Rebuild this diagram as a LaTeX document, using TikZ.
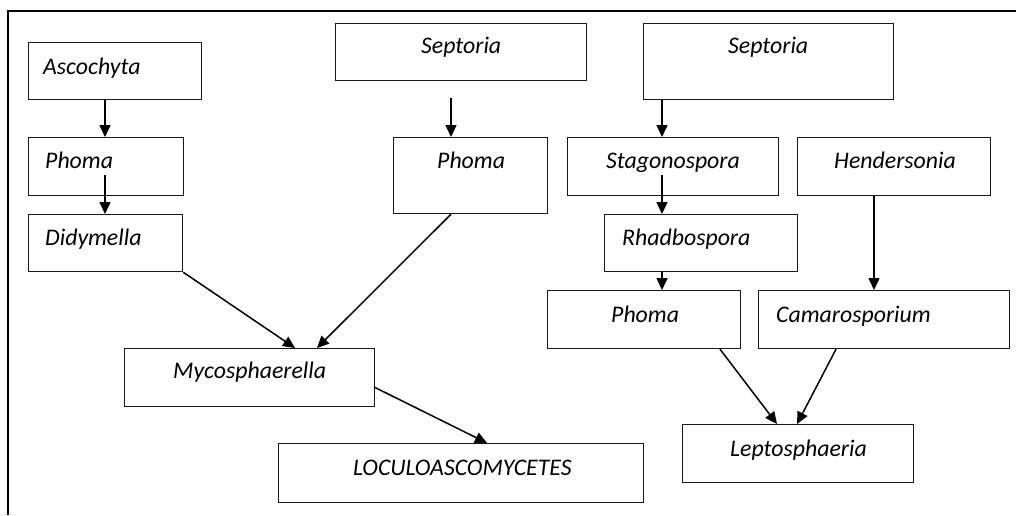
\documentclass[tikz,border=0pt]{standalone}
\usepackage{fontspec}
\setmainfont{Carlito}
\usetikzlibrary{arrows.meta}
\begin{document}
\begin{tikzpicture}[x=1pt,y=-1pt,
  box/.style={draw=black!90,line width=1.2pt,rectangle,inner sep=0pt,anchor=north west},
  txt/.style={inner sep=0pt,anchor=base west,font=\fontsize{23.8}{27}\selectfont\itshape},
  arr/.style={line width=1.5pt,-{Triangle[length=12pt,width=11pt]}},
  frame/.style={line width=2.2pt}]
\useasboundingbox (0,0) rectangle (1016,515);
% frame
\coordinate (fTL) at (8,11);
\coordinate (fTR) at (1016,11);
\coordinate (fBL) at (8,515);
\draw[frame] (fBL) -- (fTL) -- (fTR);
% boxes
\node[box,minimum width=173pt,minimum height=57pt] (asc) at (28,42) {};
\node[box,minimum width=155pt,minimum height=58pt] (ph1) at (28,137) {};
\node[box,minimum width=154pt,minimum height=57pt] (did) at (28,214) {};
\node[box,minimum width=251pt,minimum height=57pt] (sep1) at (335,23) {};
\node[box,minimum width=154pt,minimum height=76pt] (ph2) at (393,137) {};
\node[box,minimum width=250pt,minimum height=76pt] (sep2) at (643,23) {};
\node[box,minimum width=211pt,minimum height=58pt] (stag) at (567,137) {};
\node[box,minimum width=193pt,minimum height=58pt] (hend) at (797,137) {};
\node[box,minimum width=193pt,minimum height=57pt] (rhad) at (604,214) {};
\node[box,minimum width=193pt,minimum height=58pt] (ph3) at (547,290) {};
\node[box,minimum width=251pt,minimum height=58pt] (cam) at (758,290) {};
\node[box,minimum width=250pt,minimum height=58pt] (myco) at (124,348) {};
\node[box,minimum width=365pt,minimum height=59pt] (loc) at (278,443) {};
\node[box,minimum width=231pt,minimum height=58pt] (lep) at (682,424) {};
% texts
\node[txt] (tasc) at (43,74) {Ascochyta};
\node[txt] (tph1) at (45,168) {Phoma};
\node[txt] (tdid) at (45,245) {Didymella};
\node[txt] (tsep1) at (421,53) {Septoria};
\node[txt] (tph2) at (437,168) {Phoma};
\node[txt] (tsep2) at (728,53) {Septoria};
\node[txt] (tstag) at (606,168) {Stagonospora};
\node[txt] (thend) at (834,168) {Hendersonia};
\node[txt] (trhad) at (622,245) {Rhadbospora};
\node[txt] (tph3) at (611,322) {Phoma};
\node[txt] (tcam) at (776,322) {Camarosporium};
\node[txt] (tmyco) at (173,378) {Mycosphaerella};
\node[txt] (tloc) at (353,475) {LOCULOASCOMYCETES};
\node[txt] (tlep) at (730,456) {Leptosphaeria};
% helper coordinates
\coordinate (xa) at (105,0);
\coordinate (p1start) at (105,175);
\coordinate (s1start) at (451,98);
\coordinate (xs) at (451,0);
\coordinate (xg) at (662,0);
\coordinate (stagstart) at (662,175);
\coordinate (xh) at (874,0);
\coordinate (xm1) at (295,0);
\coordinate (xm2) at (317,0);
\coordinate (mycostart) at (374,387);
\coordinate (xl) at (487,0);
\coordinate (xp3) at (720,0);
\coordinate (xl1) at (777,0);
\coordinate (xc) at (836,0);
\coordinate (xl2) at (797,0);
% connectors
\draw[arr] (asc.south -| xa) -- (ph1.north -| xa);
\draw[arr] (p1start) -- (did.north -| xa);
\draw[arr] (s1start) -- (ph2.north -| xs);
\draw[arr] (sep2.south -| xg) -- (stag.north -| xg);
\draw[arr] (stagstart) -- (rhad.north -| xg);
\draw[arr] (rhad.south -| xg) -- (ph3.north -| xg);
\draw[arr] (hend.south -| xh) -- (cam.north -| xh);
\draw[arr] (did.south east) -- (myco.north -| xm1);
\draw[arr] (ph2.south -| xs) -- (myco.north -| xm2);
\draw[arr] (mycostart) -- (loc.north -| xl);
\draw[arr] (ph3.south -| xp3) -- (lep.north -| xl1);
\draw[arr] (cam.south -| xc) -- (lep.north -| xl2);
\end{tikzpicture}
\end{document}
